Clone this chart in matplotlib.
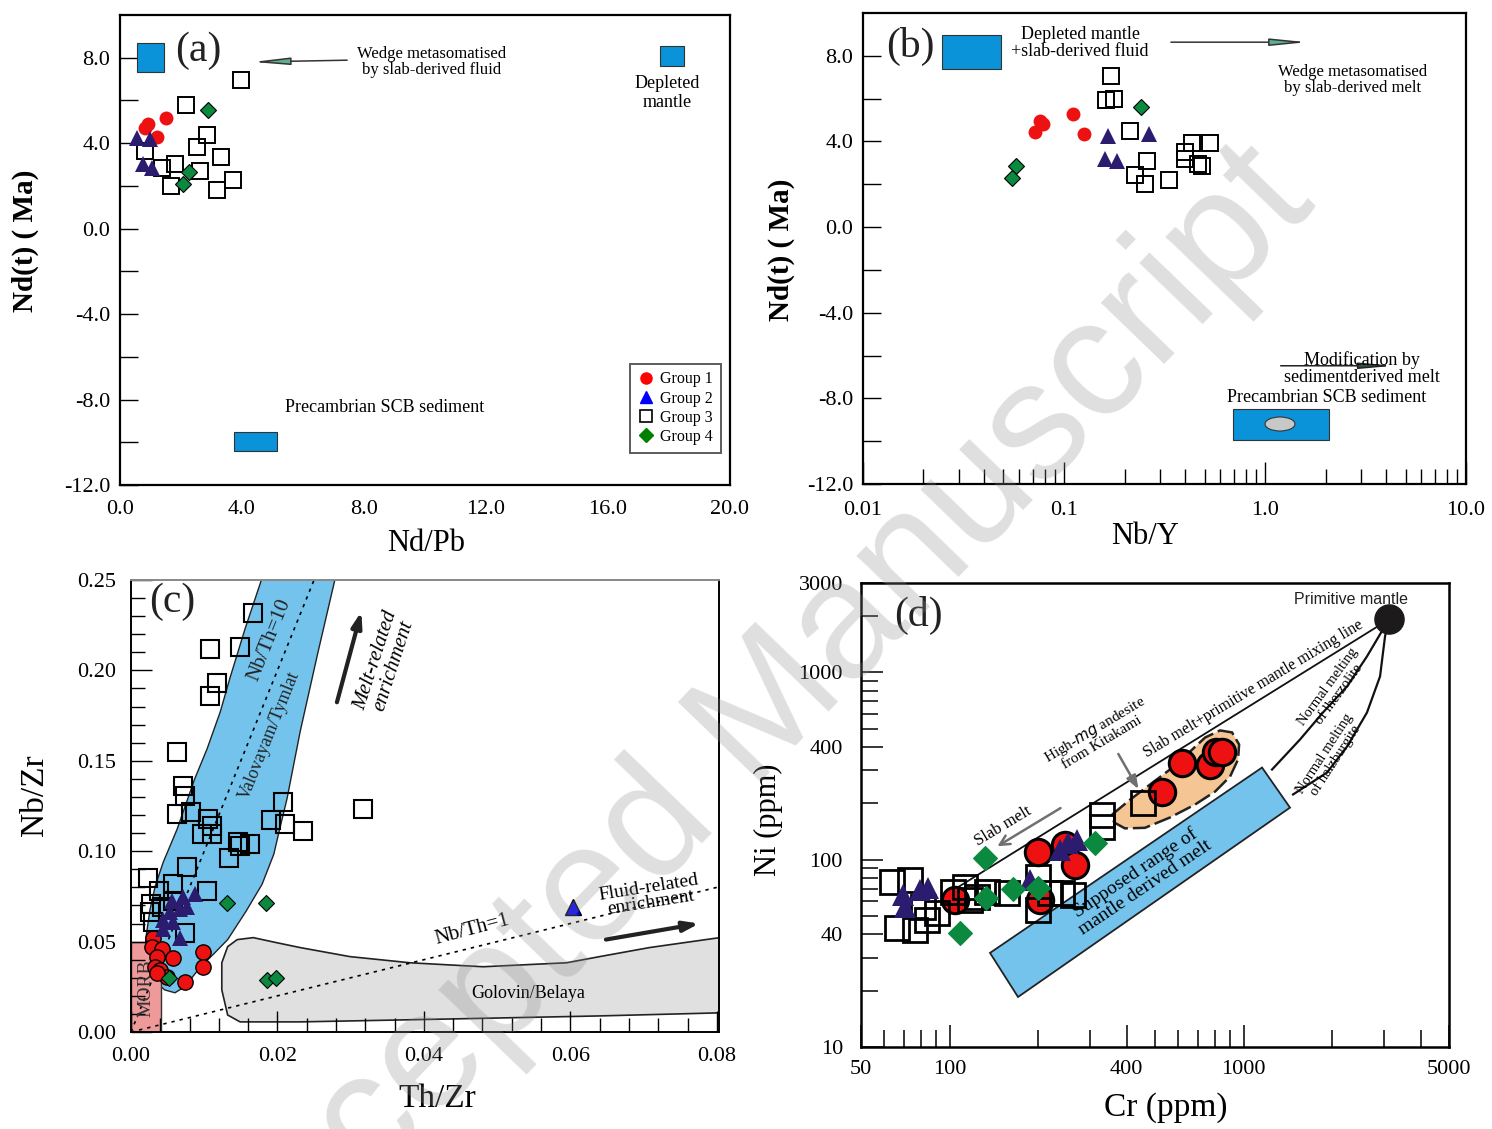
import matplotlib
matplotlib.use("Agg")
import matplotlib.pyplot as plt
from matplotlib.patches import Polygon, Rectangle, Ellipse
from matplotlib.lines import Line2D
from matplotlib.ticker import FixedLocator, NullFormatter

plt.rcParams['font.family'] = ['Liberation Serif', 'DejaVu Serif']

RED = '#ee1111'
NAVY = '#2c1c70'
GREEN = '#0b8a3f'
FIELD_BLUE = '#0a93d8'
BAND_BLUE = '#74c3ec'

# ---- (a) eNd(t) vs Nd/Pb ----
a_g1_x = [0.82, 0.92, 1.50, 1.20]
a_g1_y = [4.72, 4.90, 5.20, 4.30]
a_g2_x = [0.56, 1.00, 0.75, 1.05]
a_g2_y = [4.25, 4.20, 3.04, 2.85]
a_g3_x = [3.97, 2.16, 2.85, 2.52, 0.82, 3.30, 1.80, 1.38, 2.62, 1.67, 3.70, 3.18]
a_g3_y = [6.96, 5.80, 4.40, 3.80, 3.64, 3.36, 3.04, 2.85, 2.70, 2.00, 2.29, 1.82]
a_g4_x = [2.89, 2.26, 2.07]
a_g4_y = [5.56, 2.66, 2.10]

# ---- (b) eNd(t) vs Nb/Y ----
b_g1_x = [0.076, 0.079, 0.072, 0.111, 0.126]
b_g1_y = [4.95, 4.81, 4.44, 5.28, 4.35]
b_g2_x = [0.166, 0.265, 0.160, 0.184]
b_g2_y = [4.25, 4.35, 3.18, 3.08]
b_g3_x = [0.171, 0.162, 0.177, 0.213, 0.259, 0.225, 0.253, 0.333, 0.433, 0.532, 0.400, 0.400, 0.465, 0.487]
b_g3_y = [7.06, 5.93, 6.00, 4.49, 3.08, 2.43, 2.01, 2.20, 3.93, 3.93, 3.50, 3.18, 2.94, 2.85]
b_g4_x = [0.241, 0.058, 0.055]
b_g4_y = [5.60, 2.85, 2.29]

# ---- (c) Nb/Zr vs Th/Zr ----
c_g1_x = [0.0030, 0.0029, 0.0042, 0.0036, 0.0057, 0.0033, 0.0040, 0.0049, 0.0074, 0.0098, 0.0098, 0.0036]
c_g1_y = [0.0522, 0.0472, 0.0461, 0.0417, 0.0411, 0.0361, 0.0344, 0.0306, 0.0278, 0.0444, 0.0361, 0.0328]
c_g2_x = [0.0087, 0.0071, 0.0056, 0.0076, 0.0067, 0.0053, 0.0044, 0.0057, 0.0044, 0.0067]
c_g2_y = [0.0761, 0.0744, 0.0722, 0.0694, 0.0678, 0.0661, 0.0622, 0.0606, 0.0567, 0.0522]
c_g2b_x = [0.0603]
c_g2b_y = [0.0689]
c_g3_x = [0.0167, 0.0108, 0.0149, 0.0117, 0.0108, 0.0063, 0.0071, 0.0074, 0.0063, 0.0082,
          0.0105, 0.0111, 0.0097, 0.0111, 0.0208, 0.0210, 0.0235, 0.0191, 0.0146, 0.0162,
          0.0149, 0.0134, 0.0076, 0.0023, 0.0057, 0.0104, 0.0038, 0.0027, 0.0057, 0.0026,
          0.0030, 0.0042, 0.0074, 0.0317]
c_g3_y = [0.2317, 0.2117, 0.2128, 0.1928, 0.1856, 0.1550, 0.1361, 0.1306, 0.1206, 0.1217,
          0.1178, 0.1139, 0.1094, 0.1094, 0.1272, 0.1150, 0.1111, 0.1172, 0.1050, 0.1039,
          0.1028, 0.0961, 0.0911, 0.0850, 0.0817, 0.0778, 0.0778, 0.0706, 0.0722, 0.0661,
          0.0606, 0.0689, 0.0550, 0.1233]
c_g4_x = [0.0131, 0.0184, 0.0052, 0.0186, 0.0198]
c_g4_y = [0.0711, 0.0711, 0.0300, 0.0289, 0.0300]

# Valovayam/Tymlat field outline
valo_left_x = [0.0179, 0.0156, 0.0135, 0.0122, 0.0104, 0.0087, 0.0063, 0.0044, 0.0033, 0.0026,
               0.0021, 0.0019, 0.0023, 0.0033, 0.0046, 0.0060]
valo_left_y = [0.2511, 0.2233, 0.1956, 0.1772, 0.1567, 0.1400, 0.1122, 0.0939, 0.0806, 0.0678,
               0.0539, 0.0456, 0.0356, 0.0278, 0.0233, 0.0217]
valo_right_x = [0.0071, 0.0081, 0.0094, 0.0112, 0.0132, 0.0157, 0.0179, 0.0195, 0.0203, 0.0213,
                0.0231, 0.0255, 0.0279]
valo_right_y = [0.0244, 0.0289, 0.0356, 0.0428, 0.0511, 0.0667, 0.0817, 0.0983, 0.1122, 0.1289,
                0.1661, 0.2094, 0.2511]
# Golovin/Belaya field outline
golo_x = [0.0145, 0.0167, 0.0199, 0.0231, 0.0299, 0.0381, 0.0481, 0.0595, 0.0640, 0.0708,
          0.0804, 0.0804, 0.0640, 0.0435, 0.0231, 0.0149, 0.0132, 0.0124, 0.0124, 0.0132]
golo_y = [0.0511, 0.0522, 0.0494, 0.0467, 0.0417, 0.0383, 0.0361, 0.0383, 0.0417, 0.0467,
          0.0522, 0.0106, 0.0089, 0.0072, 0.0056, 0.0056, 0.0094, 0.0233, 0.0383, 0.0472]

# ---- (d) Ni vs Cr ----
d_g1_x = [104, 200, 247, 267, 203, 528, 618, 769, 806, 845]
d_g1_y = [61, 110, 120, 94, 61, 231, 330, 322, 378, 378]
d_g2_x = [69.5, 70.6, 79.3, 84.5, 238, 253, 271, 188]
d_g2_y = [65, 56, 69, 71, 113, 123, 128, 78]
d_g3_x = [63.8, 73.4, 66.3, 76.3, 83.8, 90.7, 81.2, 102.8, 113, 117.4, 124, 134.2, 156.9,
          200, 200, 219.8, 241.4, 263.1, 330, 330, 455]
d_g3_y = [76.3, 78.2, 43.3, 42.2, 47.8, 52.1, 56.1, 67.4, 71.7, 61.1, 63.4, 67.4, 66.6,
          81.2, 54, 66.6, 66.6, 65, 174, 150, 202]
d_g4_x = [132, 133, 108.6, 164.4, 200, 312.5]
d_g4_y = [102.5, 62.6, 40.7, 70, 70.8, 123.3]

prim_x, prim_y = 3125, 1919
mix_x = [3125, 106]
mix_y = [1919, 70.8]
lherz_x = [1250, 1556, 1863, 2250, 2630, 2913, 3125]
lherz_y = [303, 438, 611, 842, 1218, 1597, 1919]
harz_x = [1474, 1923, 2250, 2630, 2913, 3029, 3125]
harz_y = [223, 292, 402, 611, 952, 1558, 1919]
melt_box_x = [137.3, 171, 1439, 1156]
melt_box_y = [31.8, 18.5, 189.7, 310.5]
hma_x = [357, 411, 481, 562, 658, 740, 832, 914, 966, 958, 900, 800, 684, 562, 462, 395, 363]
hma_y = [174, 209, 252, 303, 378, 449, 490, 478, 412, 343, 278, 231, 197, 168, 148, 147, 158]


def plot_groups(ax, g1, g2, g3, g4, s, g2_color=NAVY, edged=False):
    ew = s.get('ew', 1.0)
    ax.plot(*g1, 'o', ls='none', ms=s['o'], mfc=RED,
            mec='black' if edged else RED, mew=ew if edged else 0, zorder=5)
    ax.plot(*g3, 's', ls='none', ms=s['s'], mfc='none', mec='black', mew=s['sw'], zorder=6)
    ax.plot(*g2, '^', ls='none', ms=s['t'], mfc=g2_color, mec=g2_color, mew=0, zorder=7)
    ax.plot(*g4, 'D', ls='none', ms=s['d'], mfc=GREEN,
            mec='black' if s.get('dedge', True) else GREEN, mew=0.8, zorder=8)


fig = plt.figure(figsize=(14.92, 11.29), dpi=100)

# ================= (a) =================
ax = fig.add_axes([0.0804, 0.5704, 0.4088, 0.4163])
ax.set_xlim(0, 20)
ax.set_ylim(-12, 10)
ax.set_xticks([0, 4, 8, 12, 16, 20], ['0.0', '4.0', '8.0', '12.0', '16.0', '20.0'])
ax.set_yticks([-12, -8, -4, 0, 4, 8], ['-12.0', '-8.0', '-4.0', '0.0', '4.0', '8.0'])
ax.yaxis.set_minor_locator(FixedLocator([-10, -6, -2, 2, 6]))
ax.tick_params(axis='y', which='both', direction='in', length=13, width=1.0, pad=7, labelsize=16)
ax.tick_params(axis='x', which='both', length=0, pad=11, labelsize=16)
for sp in ax.spines.values():
    sp.set_linewidth(1.6)
plot_groups(ax, (a_g1_x, a_g1_y), (a_g2_x, a_g2_y), (a_g3_x, a_g3_y), (a_g4_x, a_g4_y),
            dict(o=10, s=12, sw=1.4, t=11, d=8.5))
ax.add_patch(Rectangle((0.56, 7.34), 0.88, 1.35, fc=FIELD_BLUE, ec='#333333', lw=0.8, zorder=3))
ax.add_patch(Rectangle((17.7, 7.62), 0.8, 0.93, fc=FIELD_BLUE, ec='#333333', lw=0.8, zorder=3))
ax.add_patch(Rectangle((3.74, -10.42), 1.41, 0.89, fc=FIELD_BLUE, ec='#333333', lw=0.8, zorder=3))
ax.text(0.128, 0.925, '(a)', transform=ax.transAxes, fontsize=30, ha='center', va='center', color='#222222')
ax.text(0.511, 0.90, 'Wedge metasomatised\nby slab-derived fluid', transform=ax.transAxes,
        fontsize=12, ha='center', va='center', linespacing=1.0)
ax.annotate('', xy=(0.213, 0.900), xytext=(0.377, 0.904), xycoords='axes fraction',
            arrowprops=dict(arrowstyle='-|>,head_length=2.2,head_width=0.22', lw=1.1,
                            color='#333333', fc='#5fae8e'))
ax.text(0.898, 0.834, 'Depleted\nmantle', transform=ax.transAxes, fontsize=13,
        ha='center', va='center', linespacing=1.15)
ax.text(0.434, 0.164, 'Precambrian SCB sediment', transform=ax.transAxes, fontsize=13,
        ha='center', va='center')
ax.set_xlabel('Nd/Pb', fontsize=22)
ax.xaxis.set_label_coords(0.502, -0.094)
ax.set_ylabel('Nd(t) ( Ma)', fontsize=21, fontweight='bold')
ax.yaxis.set_label_coords(-0.132, 0.52)
handles = [
    Line2D([], [], marker='o', ls='none', ms=8, mfc='#ff0000', mec='#ff0000'),
    Line2D([], [], marker='^', ls='none', ms=9, mfc='#0000ff', mec='#0000ff'),
    Line2D([], [], marker='s', ls='none', ms=8, mfc='none', mec='black', mew=1.2),
    Line2D([], [], marker='D', ls='none', ms=7, mfc='#008000', mec='#008000'),
]
leg = ax.legend(handles, ['Group 1', 'Group 2', 'Group 3', 'Group 4'], loc='lower right',
                bbox_to_anchor=(0.985, 0.068), fontsize=11.5, frameon=True, fancybox=False,
                handlelength=1.0, handletextpad=0.4, labelspacing=0.2, borderpad=0.5,
                borderaxespad=0)
leg.get_frame().set_edgecolor('#333333')
leg.get_frame().set_linewidth(1.4)

# ================= (b) =================
ax = fig.add_axes([0.5784, 0.5713, 0.4042, 0.4172])
ax.set_xscale('log')
ax.set_xlim(0.01, 10)
ax.set_ylim(-12, 10)
ax.set_xticks([0.01, 0.1, 1, 10], ['0.01', '0.1', '1.0', '10.0'])
ax.xaxis.set_minor_locator(FixedLocator([m * 10.0 ** e for e in (-2, -1, 0) for m in range(2, 10)]))
ax.xaxis.set_minor_formatter(NullFormatter())
ax.set_yticks([-12, -8, -4, 0, 4, 8], ['-12.0', '-8.0', '-4.0', '0.0', '4.0', '8.0'])
ax.yaxis.set_minor_locator(FixedLocator([-10, -6, -2, 2, 6]))
ax.tick_params(axis='y', which='both', direction='in', length=13, width=1.0, pad=7, labelsize=16)
ax.tick_params(axis='x', which='major', direction='in', length=16, width=1.0, pad=12, labelsize=16)
ax.tick_params(axis='x', which='minor', direction='in', length=11, width=1.0)
for sp in ax.spines.values():
    sp.set_linewidth(1.6)
plot_groups(ax, (b_g1_x, b_g1_y), (b_g2_x, b_g2_y), (b_g3_x, b_g3_y), (b_g4_x, b_g4_y),
            dict(o=10, s=12, sw=1.4, t=11, d=8.5))
ax.add_patch(Rectangle((0.0247, 7.38), 0.0486 - 0.0247, 1.59, fc=FIELD_BLUE, ec='#333333', lw=0.8, zorder=3))
ax.add_patch(Rectangle((0.693, -9.95), 2.08 - 0.693, 1.45, fc=FIELD_BLUE, ec='#333333', lw=0.8, zorder=3))
ax.add_patch(Ellipse((0.6915, 0.1274), 0.0498, 0.0297, transform=ax.transAxes,
                     fc='#c8c8c8', ec='#333333', lw=0.8, zorder=4))
ax.text(0.078, 0.928, '(b)', transform=ax.transAxes, fontsize=30, ha='center', va='center', color='#222222')
ax.text(0.36, 0.936, 'Depleted mantle\n+slab-derived fluid', transform=ax.transAxes,
        fontsize=13, ha='center', va='center', linespacing=1.05)
ax.annotate('', xy=(0.741, 0.938), xytext=(0.506, 0.938), xycoords='axes fraction',
            arrowprops=dict(arrowstyle='-|>,head_length=2.2,head_width=0.22', lw=1.1,
                            color='#333333', fc='#5fae8e'))
ax.text(0.8126, 0.858, 'Wedge metasomatised\nby slab-derived melt', transform=ax.transAxes,
        fontsize=12, ha='center', va='center', linespacing=1.05)
ax.annotate('', xy=(0.885, 0.251), xytext=(0.688, 0.251), xycoords='axes fraction',
            arrowprops=dict(arrowstyle='-|>,head_length=2.0,head_width=0.18', lw=1.1,
                            color='#222222', fc='#2f4f3f'))
ax.text(0.8275, 0.246, 'Modification by\nsedimentderived melt', transform=ax.transAxes,
        fontsize=13, ha='center', va='center', linespacing=1.0)
ax.text(0.7695, 0.1847, 'Precambrian SCB sediment', transform=ax.transAxes,
        fontsize=13, ha='center', va='center')
ax.set_xlabel('Nb/Y', fontsize=22)
ax.xaxis.set_label_coords(0.468, -0.081)
ax.set_ylabel('Nd(t) ( Ma)', fontsize=21, fontweight='bold')
ax.yaxis.set_label_coords(-0.113, 0.497)

# ================= (c) =================
ax = fig.add_axes([0.0878, 0.0859, 0.3941, 0.4004])
ax.set_xlim(0, 0.0803)
ax.set_ylim(0, 0.25)
ax.set_xticks([0, 0.02, 0.04, 0.06, 0.08], ['0.00', '0.02', '0.04', '0.06', '0.08'])
ax.xaxis.set_minor_locator(FixedLocator([i * 0.004 for i in range(21)]))
ax.set_yticks([0, 0.05, 0.10, 0.15, 0.20, 0.25], ['0.00', '0.05', '0.10', '0.15', '0.20', '0.25'])
ax.yaxis.set_minor_locator(FixedLocator([i * 0.01 for i in range(26)]))
ax.tick_params(axis='both', which='major', direction='in', length=15, width=1.0, pad=11, labelsize=16)
ax.tick_params(axis='both', which='minor', direction='in', length=10, width=1.0)
ax.tick_params(top=False, right=False, which='both')
for sp in ax.spines.values():
    sp.set_linewidth(1.4)
ax.spines['top'].set_color('#888888')
ax.add_patch(Polygon(list(zip(valo_left_x + valo_right_x, valo_left_y + valo_right_y)),
                     closed=True, fc=BAND_BLUE, ec='#222222', lw=1.0, zorder=1))
ax.add_patch(Polygon(list(zip(golo_x, golo_y)), closed=True, fc='#e0e0e0', ec='#222222', lw=1.2, zorder=1))
ax.add_patch(Rectangle((0, 0), 0.0041, 0.05, fc='#ee9a9a', ec='#333333', lw=1.0, zorder=1))
ax.plot([0.0, 0.025], [0.0, 0.25], ls=(0, (2, 3)), color='black', lw=1.2, zorder=2)
ax.plot([0.0, 0.0803], [0.0, 0.0803], ls=(0, (2, 3)), color='black', lw=1.2, zorder=2)
plot_groups(ax, (c_g1_x, c_g1_y), (c_g2_x, c_g2_y), (c_g3_x, c_g3_y), (c_g4_x, c_g4_y),
            dict(o=11, s=12.5, sw=1.5, t=12, d=8.5, ew=1.0), edged=True)
ax.plot(c_g2b_x, c_g2b_y, '^', ls='none', ms=12, mfc='#0000ff', mec='black', mew=1.0, zorder=7)
ax.text(0.0697, 0.951, '(c)', transform=ax.transAxes, fontsize=30, ha='center', va='center', color='#222222')
ax.text(0.236, 0.867, 'Nb/Th=10', transform=ax.transAxes, fontsize=15, rotation=68,
        ha='center', va='center', color='#222222')
ax.text(0.236, 0.657, 'Valovayam/Tymlat', transform=ax.transAxes, fontsize=13, rotation=68,
        ha='center', va='center', color='#222222')
ax.annotate('', xy=(0.393, 0.936), xytext=(0.349, 0.7235), xycoords='axes fraction',
            arrowprops=dict(arrowstyle='-|>,head_length=0.9,head_width=0.3', lw=3.0, color='#222222'))
ax.text(0.432, 0.816, 'Melt-related\nenrichment', transform=ax.transAxes, fontsize=15, rotation=72,
        ha='center', va='center', style='italic', linespacing=1.0)
ax.annotate('', xy=(0.971, 0.241), xytext=(0.803, 0.2035), xycoords='axes fraction',
            arrowprops=dict(arrowstyle='-|>,head_length=0.9,head_width=0.3', lw=3.0, color='#222222'))
ax.text(0.883, 0.303, 'Fluid-related\nenrichment', transform=ax.transAxes, fontsize=14, rotation=9,
        ha='center', va='center', linespacing=0.9)
ax.text(0.58, 0.2257, 'Nb/Th=1', transform=ax.transAxes, fontsize=15, rotation=15,
        ha='center', va='center')
ax.text(0.675, 0.0863, 'Golovin/Belaya', transform=ax.transAxes, fontsize=13, ha='center', va='center')
ax.text(0.0255, 0.097, 'MORB', transform=ax.transAxes, fontsize=14, rotation=90,
        ha='center', va='center', color='#333333', zorder=3)
ax.set_xlabel('Th/Zr', fontsize=24)
ax.xaxis.set_label_coords(0.52, -0.113)
ax.set_ylabel('Nb/Zr', fontsize=24)
ax.yaxis.set_label_coords(-0.138, 0.524)

# ================= (d) =================
ax = fig.add_axes([0.5771, 0.0726, 0.3941, 0.4110])
ax.set_xscale('log')
ax.set_yscale('log')
ax.set_xlim(50, 5000)
ax.set_ylim(10, 3000)
ax.set_xticks([50, 100, 400, 1000, 5000], ['50', '100', '400', '1000', '5000'])
ax.xaxis.set_minor_locator(FixedLocator([60, 70, 80, 90, 200, 300, 500, 600, 700, 800, 900,
                                         2000, 3000, 4000]))
ax.xaxis.set_minor_formatter(NullFormatter())
ax.set_yticks([10, 40, 100, 400, 1000, 3000], ['10', '40', '100', '400', '1000', '3000'])
ax.yaxis.set_minor_locator(FixedLocator([20, 30, 50, 60, 70, 80, 90, 200, 300, 500, 600, 700,
                                         800, 900, 2000]))
ax.yaxis.set_minor_formatter(NullFormatter())
ax.tick_params(axis='both', which='major', direction='in', length=16, width=1.1, labelsize=16)
ax.tick_params(axis='both', which='minor', direction='in', length=12, width=1.1)
ax.tick_params(axis='x', which='major', pad=9)
ax.tick_params(axis='y', which='major', pad=13)
for sp in ax.spines.values():
    sp.set_linewidth(1.8)
ax.add_patch(Polygon(list(zip(melt_box_x, melt_box_y)), closed=True, fc=BAND_BLUE,
                     ec='#222222', lw=1.3, zorder=1))
ax.add_patch(Polygon(list(zip(hma_x, hma_y)), closed=True, fc='#f5c693', ec='none', zorder=1))
ax.add_patch(Polygon(list(zip(hma_x, hma_y)), closed=True, fc='none', ec='#222222', lw=1.8,
                     ls=(0, (7, 2)), zorder=1))
ax.plot(mix_x, mix_y, color='#111111', lw=1.3, zorder=2)
ax.plot(lherz_x, lherz_y, color='#111111', lw=1.6, zorder=2)
ax.plot(harz_x, harz_y, color='#111111', lw=1.6, zorder=2)
ax.plot(prim_x, prim_y, 'o', ms=21, color='#1c1a1a', zorder=5)
plot_groups(ax, (d_g1_x, d_g1_y), (d_g2_x, d_g2_y), (d_g3_x, d_g3_y), (d_g4_x, d_g4_y),
            dict(o=19, s=17, sw=2.0, t=16, d=12, ew=2.2, dedge=False), edged=True)
ax.annotate('', xy=(142.8, 115.9), xytext=(243, 192),
            arrowprops=dict(arrowstyle='->,head_length=0.7,head_width=0.35', lw=1.8, color='#707070'))
ax.annotate('', xy=(444, 231), xytext=(371, 378),
            arrowprops=dict(arrowstyle='-|>,head_length=0.8,head_width=0.3', lw=1.8, color='#707070'))
ax.text(0.097, 0.931, '(d)', transform=ax.transAxes, fontsize=30, ha='center', va='center', color='#222222')
ax.text(0.833, 0.9655, 'Primitive mantle', transform=ax.transAxes, fontsize=11.5,
        family=['Liberation Sans', 'DejaVu Sans'], ha='center', va='center', color='#222222')
ax.text(0.2415, 0.476, 'Slab melt', transform=ax.transAxes, fontsize=12, rotation=31,
        ha='center', va='center')
ax.text(0.403, 0.672, 'High-$\\it{mg}$ andesite\nfrom Kitakami', transform=ax.transAxes,
        fontsize=11, rotation=31, ha='center', va='center', linespacing=1.0)
ax.text(0.667, 0.772, 'Slab melt+primitive mantle mixing line', transform=ax.transAxes,
        fontsize=11.5, rotation=31, ha='center', va='center')
ax.text(0.803, 0.769, 'Normal melting\nof lherzolite', transform=ax.transAxes, fontsize=10.5,
        rotation=54, ha='center', va='center', linespacing=1.0)
ax.text(0.798, 0.625, 'Normal melting\nof halzburgite', transform=ax.transAxes, fontsize=10.5,
        rotation=57, ha='center', va='center', linespacing=1.0)
ax.text(0.4745, 0.36, 'Supposed range of\nmantle derived melt', transform=ax.transAxes,
        fontsize=14, rotation=34, ha='center', va='center', linespacing=1.0, zorder=3)
ax.set_xlabel('Cr (ppm)', fontsize=24)
ax.xaxis.set_label_coords(0.519, -0.097)
ax.set_ylabel('Ni (ppm)', fontsize=22)
ax.yaxis.set_label_coords(-0.133, 0.489)

# diagonal watermark across the sheet
fig.text(0.50, 0.349, 'Accepted Manuscript', rotation=46, fontsize=120, color='0.55', alpha=0.28,
         ha='center', va='center', family=['Liberation Sans', 'DejaVu Sans'], zorder=100)

fig.savefig('out.png', dpi=100)
